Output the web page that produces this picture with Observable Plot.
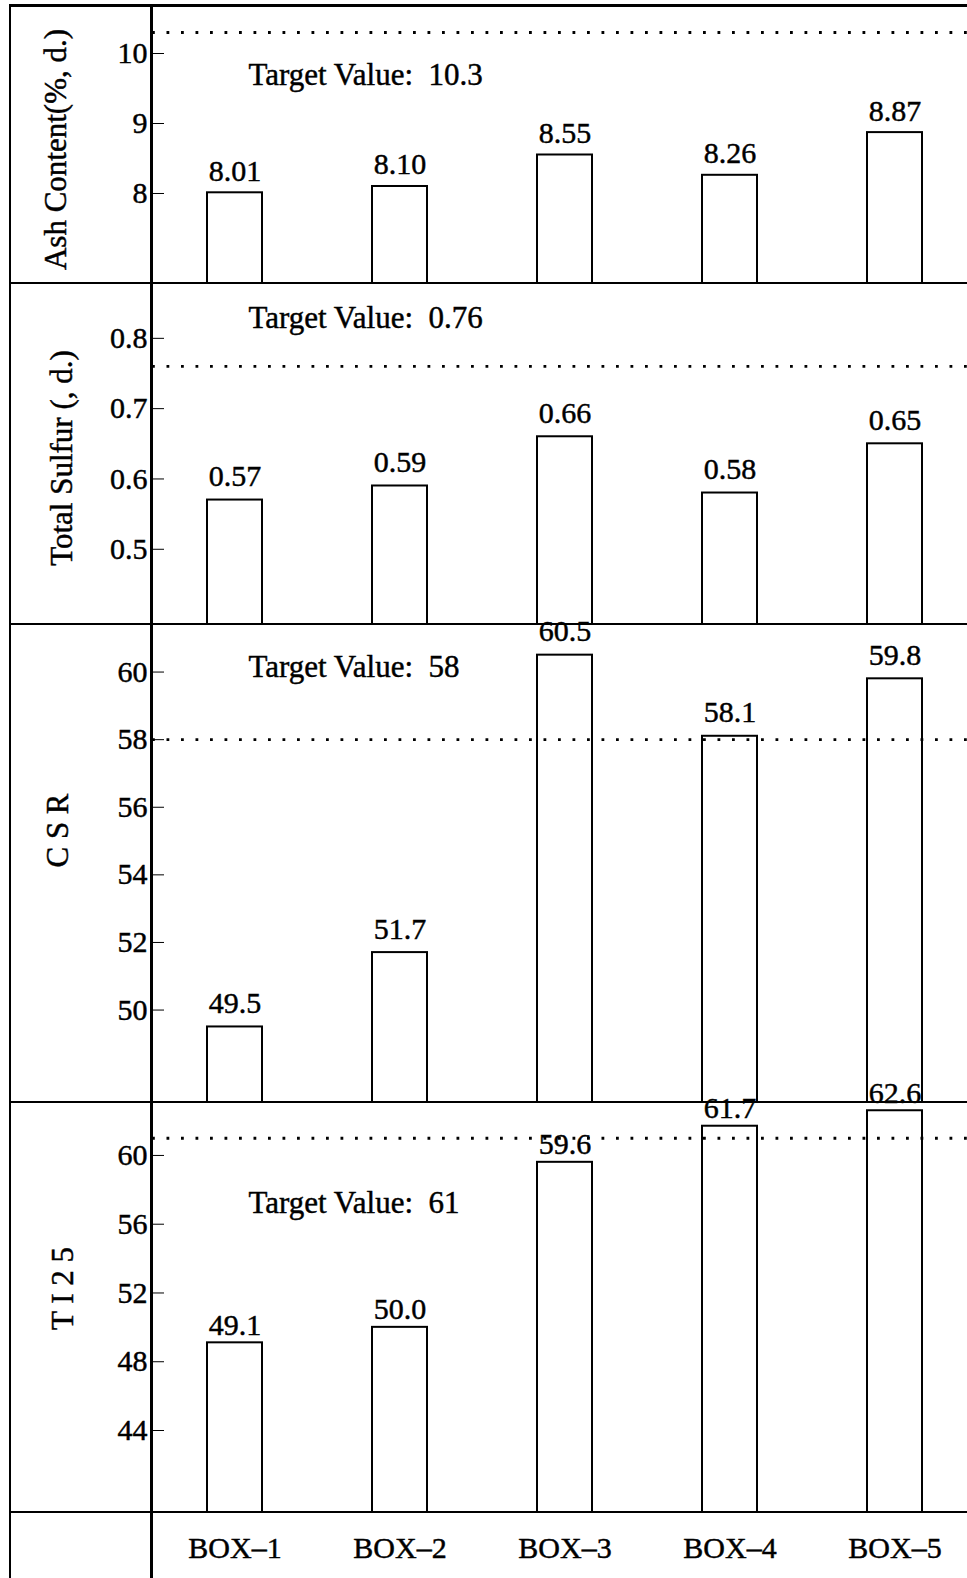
<!DOCTYPE html>
<html>
<head>
<meta charset="utf-8">
<script src="https://cdn.jsdelivr.net/npm/d3@7"></script>
<script src="https://cdn.jsdelivr.net/npm/@observablehq/plot@0.6"></script>
<style>
  body { margin: 0; background: #fff; }
  #chart { position: relative; width: 967px; height: 1578px; overflow: hidden; background: #fff;
           font-family: "Liberation Serif", "DejaVu Serif", serif; }
  #chart svg { position: absolute; left: 0; overflow: visible; }
  #chart svg text { stroke: #000; stroke-width: 0.45px; }
  .rule { position: absolute; background: #000; }
</style>
</head>
<body>
<div id="chart"></div>
<script>
// Coke quality by oven box
const boxes = ["BOX–1", "BOX–2", "BOX–3", "BOX–4", "BOX–5"];
const ash = [8.01, 8.10, 8.55, 8.26, 8.87];
const sulfur = [0.57, 0.59, 0.66, 0.58, 0.65];
const csr = [49.5, 51.7, 60.5, 58.1, 59.8];
const ti25 = [49.1, 50.0, 59.6, 61.7, 62.6];
const targets = [10.3, 0.76, 58, 61];
const titles = ["Ash Content(%, d.)", "Total Sulfur (, d.)", "C S R", "T I 2 5"];
const yTicks = [[8, 9, 10], [0.5, 0.6, 0.7, 0.8], [50, 52, 54, 56, 58, 60], [44, 48, 52, 56, 60]];

// Panel layout
const panels = [
  {values: ash,    fmt: ".2f", top: 5,    height: 278, domain: [6.714, 10.686], titleDx: -96, titleDy: 5,   labelDy: -12},
  {values: sulfur, fmt: ".2f", top: 283,  height: 341, domain: [0.393, 0.878],  titleDx: -90, titleDy: 4,   labelDy: -14},
  {values: csr,    fmt: ".1f", top: 624,  height: 478, domain: [47.265, 61.407], titleDx: -94, titleDy: -33, labelDy: -14},
  {values: ti25,   fmt: ".1f", top: 1102, height: 410, domain: [39.23, 63.08],  titleDx: -89, titleDy: -19, labelDy: -8}
];
const targetLabelY = [70, 35, 43, 101];
const bottomRow = 66;

const chart = document.getElementById("chart");
const font = "'Liberation Serif', 'DejaVu Serif', serif";

panels.forEach((p, i) => {
  const last = i === panels.length - 1;
  const rows = boxes.map((b, j) => ({box: b, value: p.values[j], label: d3.format(p.fmt)(p.values[j])}));
  const lo = p.domain[0];
  const marks = [
    Plot.barY(rows, {x: "box", y1: () => lo, y2: "value", fill: "white", stroke: "black", strokeWidth: 2}),
    Plot.ruleY([targets[i]], {stroke: "black", strokeWidth: 2.8, strokeDasharray: "2.8,11.7"}),
    Plot.text(rows, {x: "box", y: "value", text: "label", lineAnchor: "bottom", dy: p.labelDy, fontSize: 30}),
    Plot.text([`Target Value:  ${targets[i]}`], {frameAnchor: "top-left", dx: 96, dy: targetLabelY[i],
      textAnchor: "start", lineAnchor: "middle", fontSize: 31}),
    Plot.text([titles[i]], {frameAnchor: "left", rotate: -90, dx: p.titleDx, dy: p.titleDy,
      textAnchor: "middle", lineAnchor: "middle", fontSize: 31}),
    Plot.axisY(yTicks[i], {tickSize: -12, tickPadding: 17, fontSize: 30, strokeWidth: 1,
      tickFormat: d => `${d}`, label: null})
  ];
  if (last) marks.push(Plot.axisX({tickSize: 0, tickPadding: 24, fontSize: 30, label: null}));
  const svg = Plot.plot({
    width: 967,
    height: p.height + (last ? bottomRow : 0),
    marginLeft: 152, marginRight: 0, marginTop: 0, marginBottom: last ? bottomRow : 0,
    style: {fontFamily: font, fontSize: "30px", color: "black", background: "transparent", overflow: "visible"},
    x: {domain: boxes, paddingInner: 0.668, paddingOuter: 0.296, align: 0.546, axis: null},
    y: {domain: p.domain, axis: null},
    marks
  });
  svg.style.top = p.top + "px";
  chart.appendChild(svg);
});

// Table frame: outer border, axis column divider and row separators
function rule(left, top, width, height) {
  const d = document.createElement("div");
  d.className = "rule";
  Object.assign(d.style, {left: left + "px", top: top + "px", width: width + "px", height: height + "px"});
  chart.appendChild(d);
}
rule(10, 4, 957, 3);
rule(9, 4, 2, 1574);
rule(150, 4, 3, 1574);
[283, 624, 1102, 1512].forEach(y => rule(10, y - 1, 957, 2));
</script>
</body>
</html>
